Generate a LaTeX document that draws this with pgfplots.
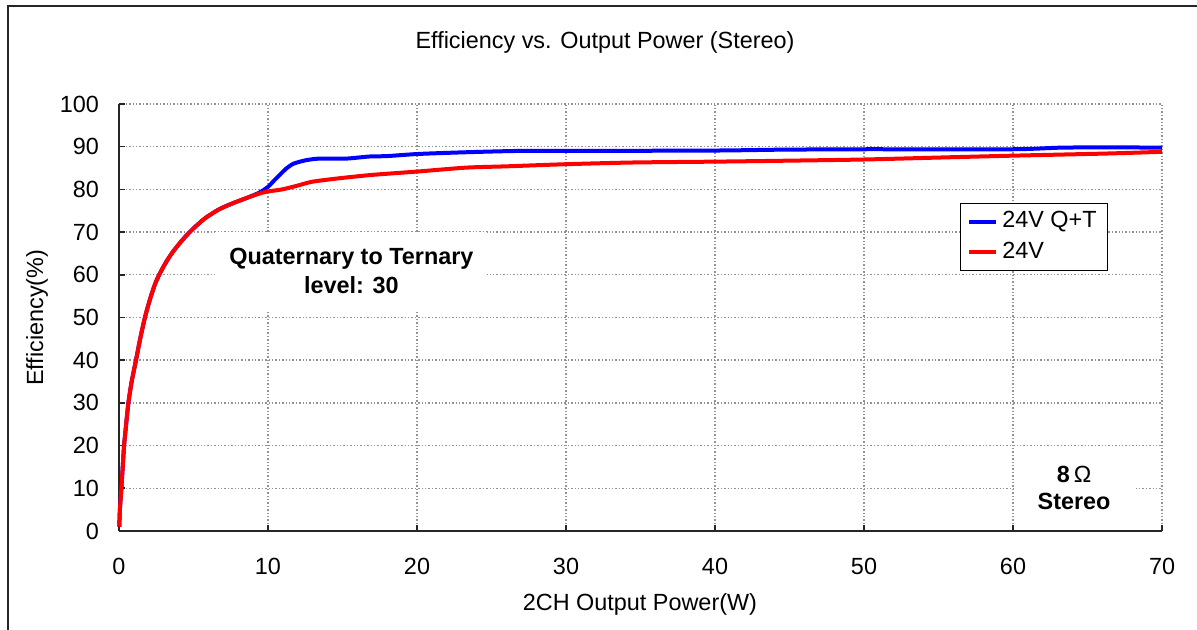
\documentclass[border=0pt]{standalone}
\usepackage{pgfplots}
\pgfplotsset{compat=1.18}
\usepackage{fontspec}
\setmainfont{Liberation Sans}
\begin{document}
\fontsize{11.7}{14}\selectfont
\begin{tikzpicture}[x=1pt,y=1pt]
\useasboundingbox (0,0) rectangle (598.5,315);
\draw[line width=1pt, black!85] (4,-2) -- (4,312) -- (600,312);
\node[font=\fontsize{11.7}{14}\selectfont] at (302.5,294) {Efficiency vs. Output Power (Stereo)};
\begin{axis}[
  at={(59.5pt,49.5pt)}, anchor=south west, scale only axis,
  width=521.5pt, height=213.5pt,
  xmin=0, xmax=70, ymin=0, ymax=100,
  xtick={0,10,...,70}, ytick={0,10,...,100},
  axis x line*=bottom, axis y line*=left,
  axis line style={-, line width=1pt, black!85},
  tick align=inside, major tick length=3pt,
  tick style={line width=0.8pt, black!85},
  grid=major, major grid style={line width=0.7pt, gray!85, densely dotted},
  /pgf/number format/assume math mode=true,
  ticklabel style={font=\fontsize{11.7}{14}\selectfont},
  xticklabel style={yshift=-9.5pt},
  yticklabel style={xshift=-6pt},
  xlabel={2CH Output Power(W)},
  ylabel={Efficiency(\%)},
  label style={font=\fontsize{11.7}{14}\selectfont},
  xlabel style={at={(axis description cs:0.4995,-0.173)}, anchor=center},
  ylabel style={at={(axis description cs:-0.0786,0.499)}, anchor=center, rotate=0},
  legend style={at={(axis description cs:0.806,0.768)}, anchor=north west,
    draw=black, line width=0.6pt, font=\fontsize{11.7}{14}\selectfont,
    inner xsep=3.5pt, inner ysep=2pt, row sep=1.5pt},
  legend cell align=left,
  legend image code/.code={\draw[line width=2pt] (0pt,0pt) -- (13.5pt,0pt);},
  clip=false,
]
\addplot[color={rgb,255:red,0;green,0;blue,255}, line width=2pt, line join=round, smooth, tension=0.4] coordinates {
(0.02,1) (0.06,5) (0.16,10) (0.25,15) (0.34,20) (0.48,25) (0.63,30) (0.85,35)
(1.14,40) (1.42,45) (1.74,50) (2.1,54.5) (2.46,58.2) (2.8,60.7) (3.2,63.2) (3.6,65.3)
(4.1,67.5) (4.5,69.1) (5.1,71.2) (5.8,73.3) (6.7,75.3) (7.6,76.7) (8.5,77.9) (9.4,79.2)
(10,80.6) (10.5,82.4) (11.2,84.8) (11.7,86.0) (12.5,86.8) (13.4,87.2) (15.2,87.2)
(16.8,87.7) (18,87.8) (20.1,88.3) (23.3,88.7) (26.7,89.0) (30,89.0) (40,89.1)
(44.4,89.3) (50,89.4) (60,89.4) (63.6,89.8) (70,89.8)
};
\addlegendentry{24V Q+T}
\addplot[color={rgb,255:red,255;green,0;blue,0}, line width=2pt, line join=round, smooth, tension=0.4] coordinates {
(0.02,1) (0.06,5) (0.16,10) (0.25,15) (0.34,20) (0.48,25) (0.63,30) (0.85,35)
(1.14,40) (1.42,45) (1.74,50) (2.1,54.5) (2.46,58.2) (2.8,60.7) (3.2,63.2) (3.6,65.3)
(4.1,67.5) (4.5,69.1) (5.1,71.2) (5.8,73.3) (6.7,75.3) (7.6,76.7) (8.5,77.9) (9.4,79.0)
(9.95,79.5) (10.96,80.0) (12,80.9) (12.97,81.8) (14.77,82.6) (17,83.4) (20.1,84.2)
(23.3,85.1) (26,85.4) (30,85.9) (34.5,86.3) (40,86.5) (44.4,86.7) (50,87.0)
(55.5,87.5) (60,87.9) (66.3,88.4) (70,88.8)
};
\addlegendentry{24V}
\node[fill=white, inner sep=0pt, minimum width=136pt, minimum height=39pt, align=center,
  font=\fontsize{11.7}{14.5}\selectfont\bfseries] at (axis cs:15.6,60.9)
  {Quaternary to Ternary\\level: 30};
\node[fill=white, inner sep=0pt, minimum width=60pt, minimum height=41pt, align=center,
  font=\fontsize{11.7}{13.5}\selectfont\bfseries] at (axis cs:64.1,10.07)
  {8\,{\mdseries Ω}\\Stereo};
\end{axis}
\end{tikzpicture}
\end{document}
